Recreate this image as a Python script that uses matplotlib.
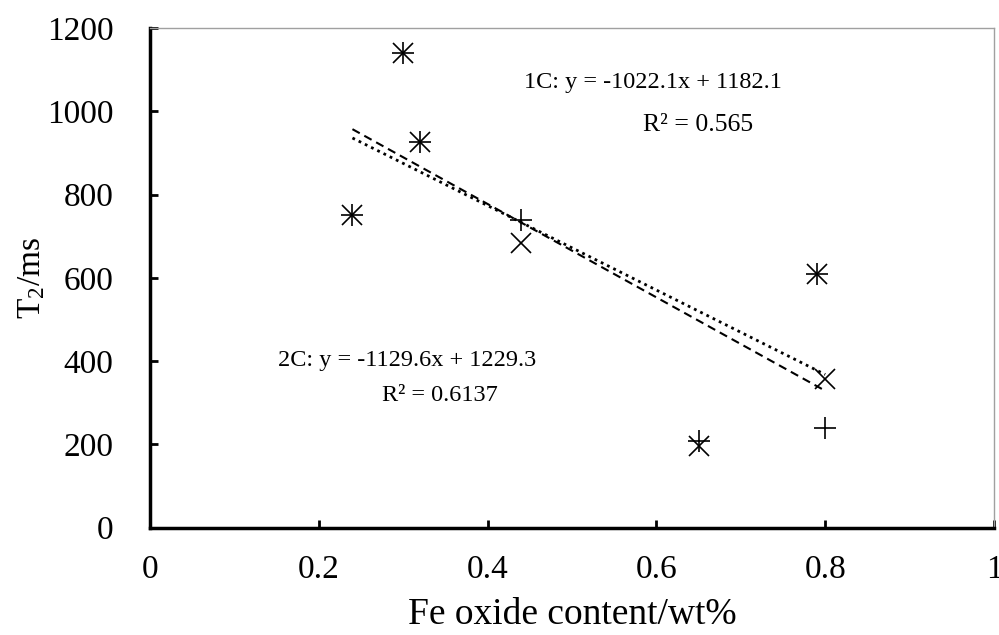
import matplotlib
matplotlib.use('Agg')
import matplotlib.pyplot as plt
import numpy as np

plt.rcParams['font.family'] = ['Liberation Serif', 'DejaVu Serif']
plt.rcParams['mathtext.fontset'] = 'custom'
plt.rcParams['mathtext.rm'] = 'Liberation Serif'
plt.rcParams['mathtext.it'] = 'Liberation Serif:italic'

# Fe oxide content (wt%) of the samples
fe_oxide = [0.24, 0.30, 0.32, 0.44, 0.65, 0.79, 0.80]
# T2 values, series 1C (x markers) and 2C (+ markers)
t2_1c = [752, 1140, 926, 684, 196, 608, 358]
t2_2c = [752, 1140, 926, 738, 208, 608, 240]

eq_1c = '1C: y = -1022.1x + 1182.1'
r2_1c = 'R² = 0.565'
eq_2c = '2C: y = -1129.6x + 1229.3'
r2_2c = 'R² = 0.6137'

fig = plt.figure(figsize=(9.99, 6.35), dpi=100)
ax = fig.add_axes([0.150, 0.169, 0.845, 0.787])

ax.plot(fe_oxide, t2_1c, 'x', color='black', ms=14, mew=1.2)
ax.plot(fe_oxide, t2_2c, '+', color='black', ms=16, mew=1.2)

# linear trend lines over the data range
x = np.array(fe_oxide)
xs = np.array([x.min(), x.max()])
k1, b1 = np.polyfit(x, t2_1c, 1)
k2, b2 = np.polyfit(x, t2_2c, 1)
ax.plot(xs, k1 * xs + b1, color='black', lw=2.0, ls=(0, (1, 1.5)))
ax.plot(xs, k2 * xs + b2, color='black', lw=1.5, ls=(0, (4, 2.5)))

ax.text(0.596, 1070, eq_1c, fontsize=17.5, ha='center', va='center')
ax.text(0.649, 967, r2_1c, fontsize=18.5, ha='center', va='center')
ax.text(0.305, 402, eq_2c, fontsize=17.5, ha='center', va='center')
ax.text(0.344, 318, r2_2c, fontsize=17.5, ha='center', va='center')

ax.set_xlim(0, 1)
ax.set_ylim(0, 1200)
ax.set_xticks([0, 0.2, 0.4, 0.6, 0.8, 1])
ax.set_xticklabels(['0', '0.2', '0.4', '0.6', '0.8', '1'])
ax.set_yticks(range(0, 1201, 200))
ax.tick_params(direction='in', length=6, width=2, labelsize=24)
ax.tick_params(axis='x', pad=19)
ax.tick_params(axis='y', pad=26)

for s in ['left', 'bottom']:
    ax.spines[s].set_linewidth(2.5)
for s in ['top', 'right']:
    ax.spines[s].set_linewidth(1.0)
    ax.spines[s].set_color('#a0a0a0')

ax.set_xlabel('Fe oxide content/wt%', fontsize=27, labelpad=9)
ax.set_ylabel('T$_2$/ms', fontsize=24, labelpad=0)

fig.savefig('out.png', dpi=100)
